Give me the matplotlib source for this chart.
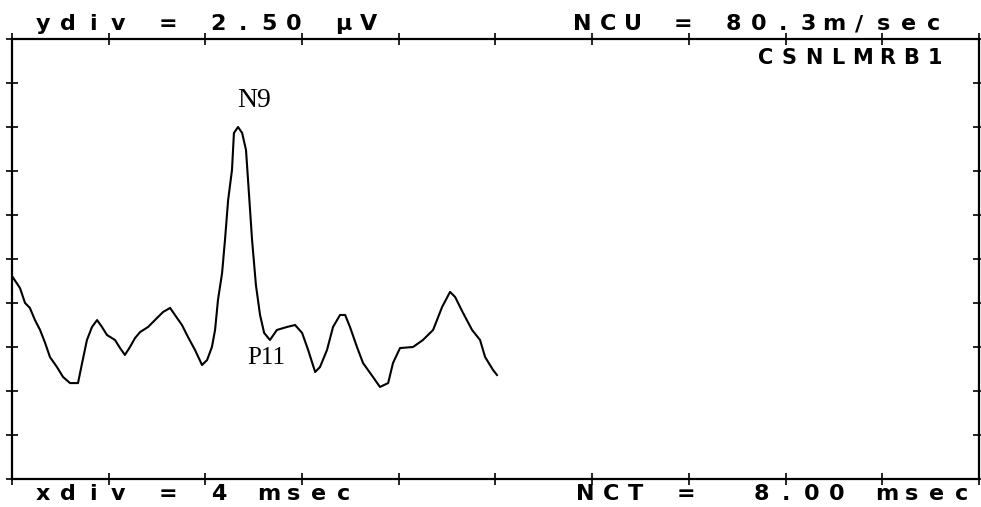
import numpy as np
import matplotlib
matplotlib.use("Agg")
import matplotlib.pyplot as plt

# -------------------------------
# Trace data
# -------------------------------
time_ms = [0.0, 0.33, 0.54, 0.74, 0.95, 1.16, 1.37, 1.57, 1.86, 2.11,
           2.40, 2.73, 2.90, 3.10, 3.31, 3.52, 3.72, 3.93, 4.26, 4.47,
           4.67, 4.88, 5.09, 5.30, 5.63, 6.00, 6.25, 6.54, 6.74, 7.03,
           7.28, 7.57, 7.86, 8.07, 8.27, 8.40, 8.52, 8.69, 8.81, 8.94,
           9.10, 9.18, 9.35, 9.52, 9.68, 9.80, 9.93, 10.09, 10.26, 10.43,
           10.67, 10.96, 11.38, 11.71, 12.00, 12.25, 12.54, 12.74, 13.03, 13.28,
           13.57, 13.78, 13.98, 14.27, 14.52, 14.93, 15.22, 15.56, 15.76, 16.05,
           16.59, 17.00, 17.42, 17.79, 18.12, 18.33, 18.66, 19.03, 19.36, 19.57,
           19.90, 20.06]
amp_uv = [11.53, 10.85, 10.00, 9.72, 9.03, 8.47, 7.73, 6.93, 6.36, 5.80,
          5.45, 5.45, 6.59, 7.90, 8.64, 9.03, 8.64, 8.18, 7.90, 7.44,
          7.05, 7.50, 8.01, 8.35, 8.64, 9.15, 9.49, 9.72, 9.32, 8.75,
          8.07, 7.33, 6.48, 6.76, 7.50, 8.47, 10.17, 11.70, 13.58, 15.85,
          17.56, 19.66, 20.00, 19.66, 18.69, 16.25, 13.58, 11.02, 9.32, 8.30,
          7.90, 8.47, 8.64, 8.75, 8.30, 7.33, 6.08, 6.36, 7.33, 8.64,
          9.32, 9.32, 8.64, 7.50, 6.59, 5.80, 5.23, 5.45, 6.59, 7.44,
          7.50, 7.90, 8.47, 9.77, 10.63, 10.34, 9.43, 8.47, 7.90, 6.93,
          6.19, 5.91]

peak_labels = ["N9", "P11"]
peak_pos = [(10.0, 21.5), (10.5, 6.9)]

xdiv_ms = 4
ydiv_uv = 2.5
n_div = 10

header_left = "ydiv = 2.50 \u00b5V"
header_right = "NCU = 80.3m/sec"
footer_left = "xdiv = 4 msec"
footer_right = "NCT =  8.00 msec"
trace_id = "CSNLMRB1"

# -------------------------------
# Figure
# -------------------------------
W, H = 981, 507
fig = plt.figure(figsize=(W / 100, H / 100), dpi=100)
ax = fig.add_axes([12 / W, 1 - 479 / H, 967 / W, 440 / H])

ax.plot(time_ms, amp_uv, color="black", lw=1.5)

ax.set_xlim(0, xdiv_ms * n_div)
ax.set_ylim(0, ydiv_uv * n_div)
ax.set_xticks(np.arange(0, xdiv_ms * n_div + 1, xdiv_ms))
ax.set_yticks(np.arange(0, ydiv_uv * n_div + 0.01, ydiv_uv))
ax.tick_params(direction="inout", length=9, width=1.2, color="black",
               top=True, right=True, labelbottom=False, labelleft=False)
for s in ax.spines.values():
    s.set_linewidth(1.6)

for lab, (x, y), fs in zip(peak_labels, peak_pos, [20, 18]):
    ax.text(x, y, lab, ha="center", va="center", fontsize=fs,
            family="Liberation Serif", color="black")


# wide "terminal" text, one character per cell
def term_text(s, x0, yc, pitch=25.1, size=16):
    for i, ch in enumerate(s):
        if ch == " ":
            continue
        fig.text((x0 + i * pitch + pitch / 2) / W, 1 - yc / H, ch,
                 ha="center", va="center", fontsize=size,
                 family="DejaVu Sans", fontweight="bold")


term_text(header_left, 30, 24)
term_text(header_right, 570, 24)
term_text(footer_left, 30, 494)
term_text(footer_right, 573, 494)
term_text(trace_id, 753, 58, pitch=24.3, size=15)

fig.savefig("out.png", dpi=100, facecolor="white")
